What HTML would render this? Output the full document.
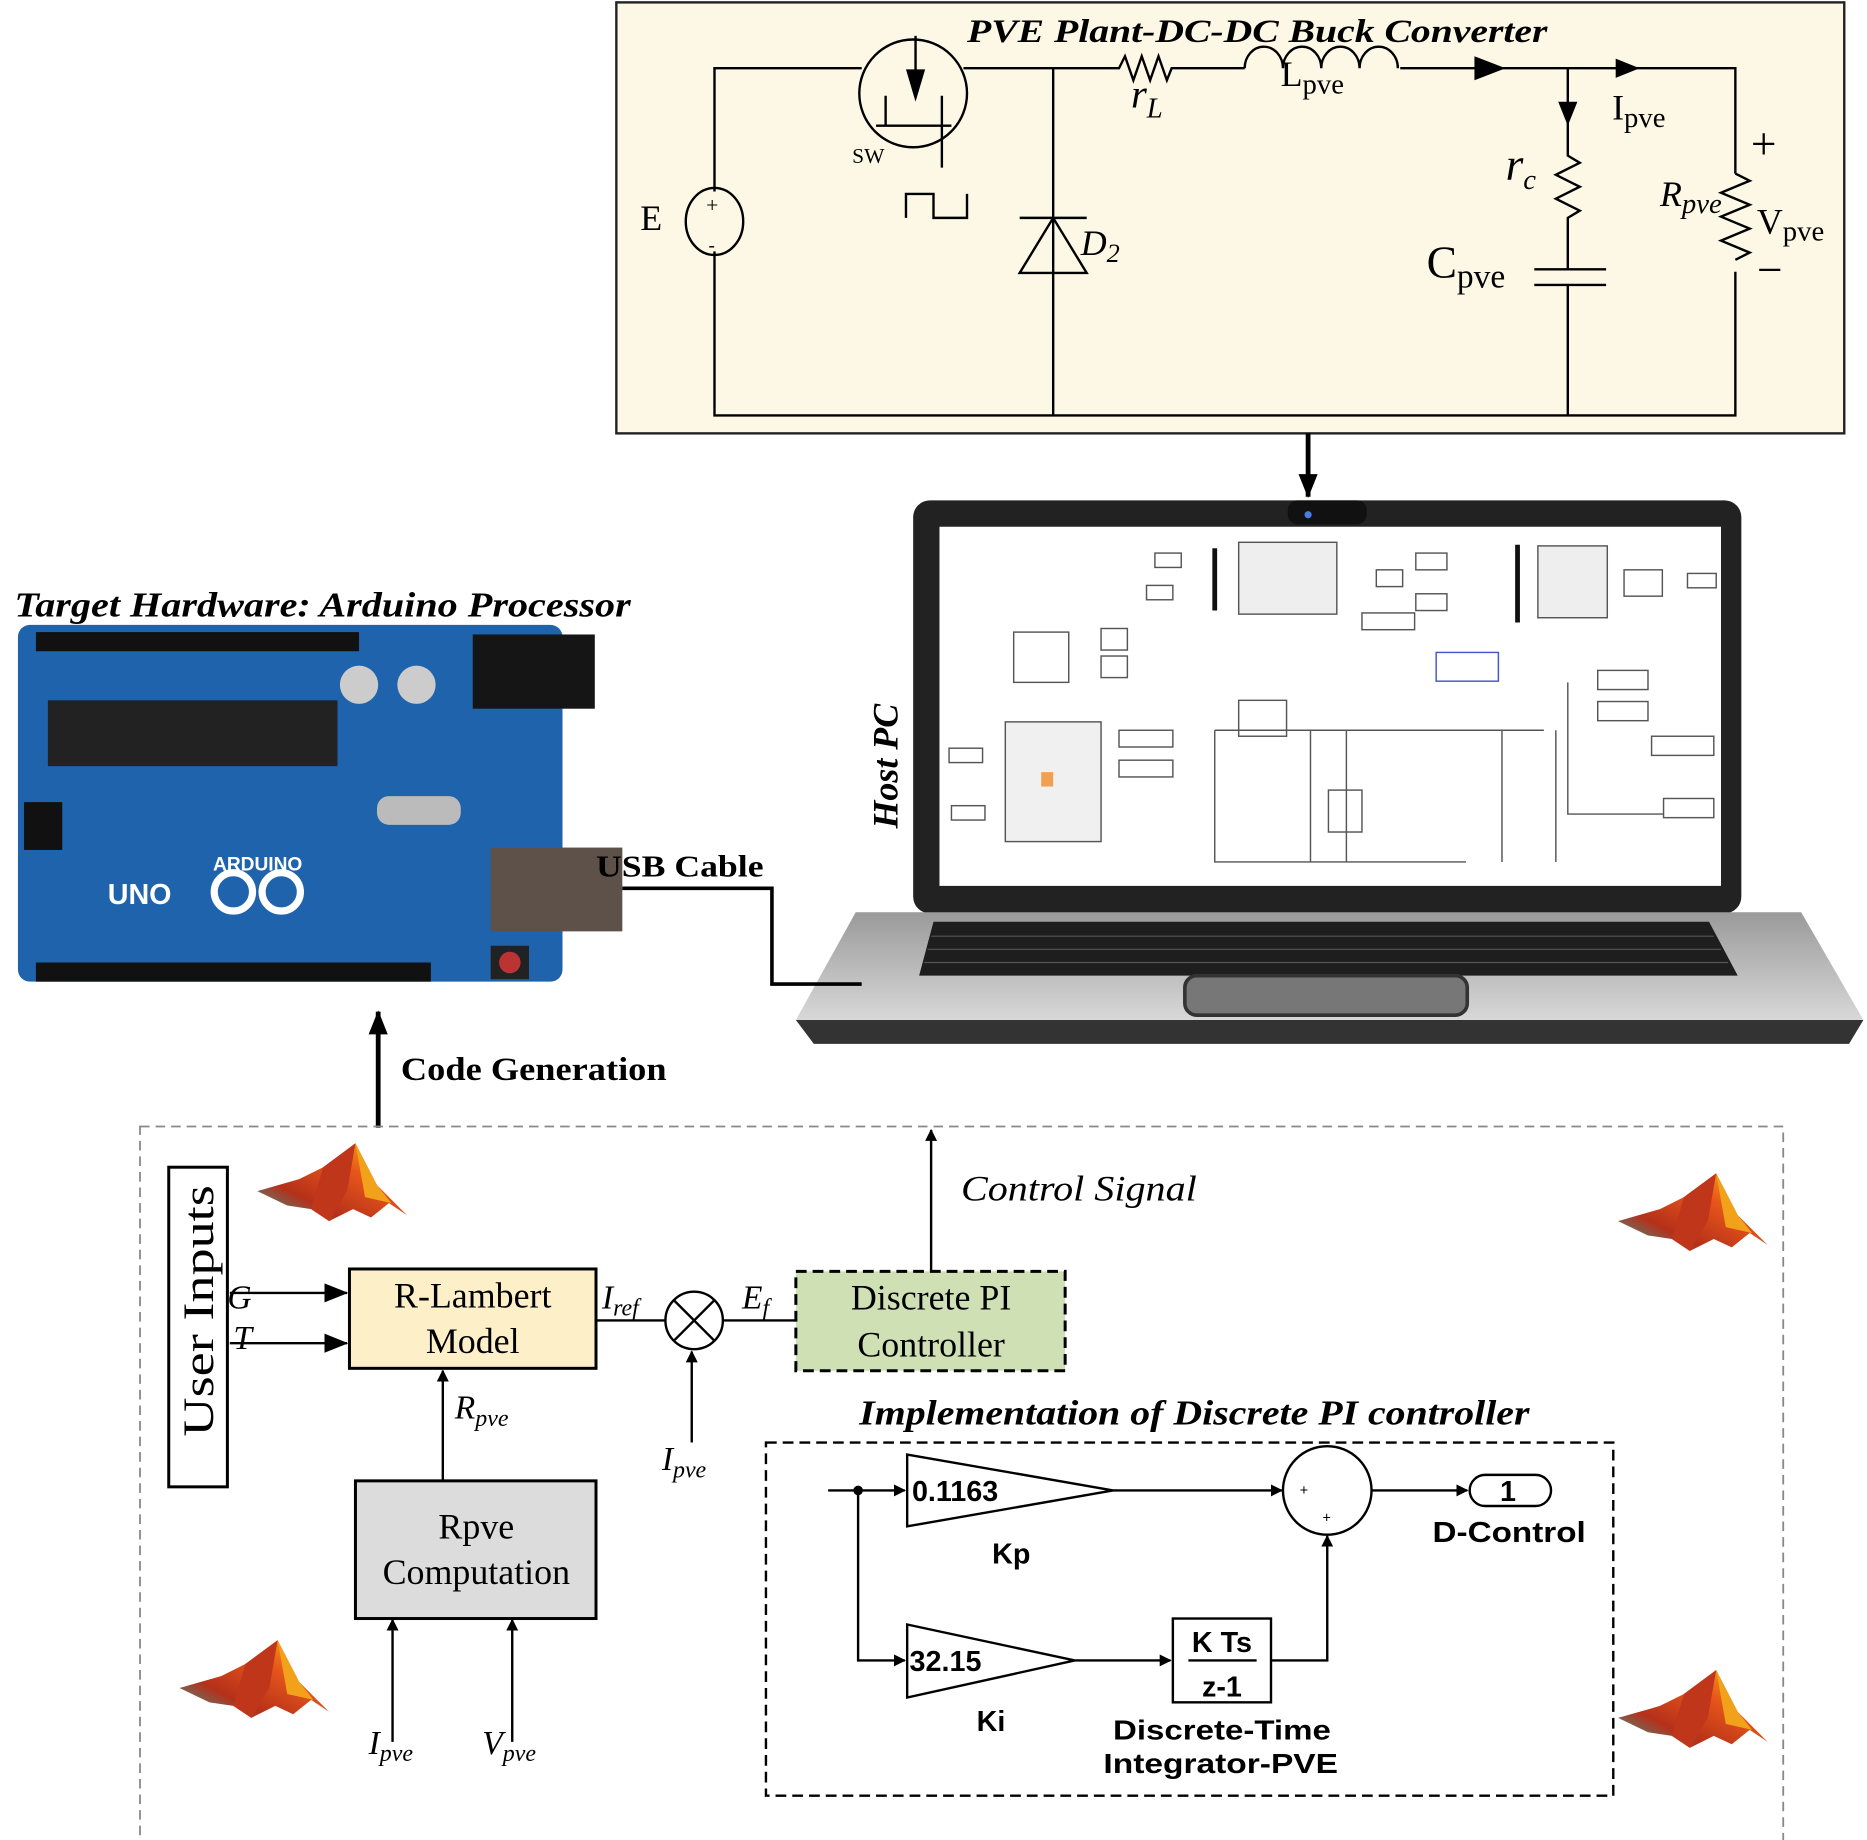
<!DOCTYPE html>
<html><head><meta charset="utf-8"><style>
html,body{margin:0;padding:0;background:#fff}
svg{display:block}
.s{font-family:"Liberation Serif",serif}
.a{font-family:"Liberation Sans",sans-serif;font-weight:bold}
</style></head><body>
<svg width="1867" height="1840" viewBox="0 0 1560 1537" preserveAspectRatio="none" xmlns="http://www.w3.org/2000/svg">
<defs>
<marker id="ar" markerWidth="10" markerHeight="10" refX="9" refY="5" orient="auto" markerUnits="userSpaceOnUse"><path d="M0,0 L10,5 L0,10z" fill="#000"/></marker>
<marker id="ab" markerWidth="20" markerHeight="16" refX="19" refY="8" orient="auto" markerUnits="userSpaceOnUse"><path d="M0,0 L20,8 L0,16z" fill="#000"/></marker>
<linearGradient id="mat" x1="0" y1="1" x2="1" y2="0"><stop offset="0" stop-color="#2aa7a0"/><stop offset="0.3" stop-color="#b5301a"/><stop offset="0.65" stop-color="#e8571a"/><stop offset="1" stop-color="#f7c21a"/></linearGradient>
<linearGradient id="base" x1="0" y1="0" x2="0" y2="1"><stop offset="0" stop-color="#9a9a9a"/><stop offset="1" stop-color="#d8d8d8"/></linearGradient>
<g id="logo"><polygon points="0,40 35,30 55,20 82,0 100,35 125,60 110,50 95,62 80,55 60,65 45,55 25,52" fill="url(#mat)"/><polygon points="55,20 82,0 75,40 60,65 45,55" fill="#c0361b"/><polygon points="82,0 100,35 112,50 90,45" fill="#f2a21a"/></g>
</defs>

<!-- circuit -->
<rect x="515" y="2" width="1026" height="360" fill="#fdf8e6" stroke="#222" stroke-width="2"/>
<text x="808" y="35" class="s" font-size="27" font-weight="bold" font-style="italic" textLength="485" lengthAdjust="spacingAndGlyphs">PVE Plant-DC-DC Buck Converter</text>
<g fill="none" stroke="#000" stroke-width="2">
<path d="M597,160 V57 H720"/>
<path d="M597,210 V347 H1450 V227"/>
<path d="M1450,145 V57 H1170"/>
<ellipse cx="597" cy="185" rx="24" ry="28"/>
<circle cx="763" cy="78" r="45"/>
<path d="M805,57 H935 l5,-10 l7,20 l7,-20 l7,20 l7,-20 l7,20 l4,-10 H1040"/>
<path d="M1040,57 a16,18 0 0 1 32,0 a16,18 0 0 1 32,0 a16,18 0 0 1 32,0 a16,18 0 0 1 32,0"/>
<path d="M880,57 V347"/>
<path d="M1310,57 V130 l10,6 l-20,10 l20,10 l-20,10 l20,10 l-10,6 V225 M1282,225 H1342 M1282,238 H1342 M1310,238 V347"/>
<path d="M1450,145 l12,6 l-24,10 l24,10 l-24,10 l24,10 l-24,10 l24,10 l-12,6"/>
<path d="M732,105 H795 M740,80 V105 M787,80 V105 M787,105 V140 M765,30 V80"/>
<path d="M757,182 V162 H780 V182 H808 V162"/>
</g>
<polygon points="757,58 773,58 765,85" fill="#000"/>
<polygon points="852,228 908,228 880,182" fill="none" stroke="#000" stroke-width="2"/>
<line x1="852" y1="182" x2="908" y2="182" stroke="#000" stroke-width="2"/>
<polygon points="1232,47 1258,57 1232,67" fill="#000"/>
<polygon points="1350,49 1370,57 1350,65" fill="#000"/>
<polygon points="1302,85 1318,85 1310,105" fill="#000"/>
<g class="s" font-size="30">
<text x="535" y="192">E</text>
<text x="590" y="177" font-size="18">+</text><text x="592" y="210" font-size="16">-</text>
<text x="712" y="136" font-size="18">SW</text>
<text x="903" y="213" font-style="italic">D<tspan font-size="22" dy="6">2</tspan></text>
<text x="945" y="90" font-style="italic" font-size="34">r<tspan font-size="24" dy="8">L</tspan></text>
<text x="1070" y="72">L<tspan font-size="24" dy="6">pve</tspan></text>
<text x="1347" y="100">I<tspan font-size="24" dy="6">pve</tspan></text>
<text x="1258" y="150" font-size="38" font-style="italic">r<tspan font-size="24" dy="8">c</tspan></text>
<text x="1192" y="232" font-size="38">C<tspan font-size="28" dy="8">pve</tspan></text>
<text x="1387" y="172" font-style="italic">R<tspan font-size="24" dy="6">pve</tspan></text>
<text x="1468" y="195">V<tspan font-size="24" dy="6">pve</tspan></text>
<text x="1463" y="133" font-size="38">+</text>
<text x="1468" y="238" font-size="38">−</text>
</g>
<line x1="1093" y1="362" x2="1093" y2="415" stroke="#000" stroke-width="4" marker-end="url(#ab)"/>

<!-- laptop -->
<rect x="763" y="418" width="692" height="345" rx="14" fill="#222"/>
<rect x="1076" y="418" width="66" height="20" rx="8" fill="#111"/><circle cx="1093" cy="430" r="3" fill="#4a7de0"/>
<rect x="785" y="440" width="653" height="300" fill="#fff"/>
<polygon points="715,762 1505,762 1557,852 665,852" fill="url(#base)"/>
<polygon points="780,770 1428,770 1452,815 768,815" fill="#1e1e1e"/>
<g stroke="#555" stroke-width="1">
<line x1="778" y1="782" x2="1432" y2="782"/><line x1="775" y1="793" x2="1438" y2="793"/><line x1="772" y1="804" x2="1444" y2="804"/>
</g>
<rect x="990" y="815" width="236" height="33" rx="10" fill="#777" stroke="#333" stroke-width="3"/>
<polygon points="665,852 1557,852 1545,872 680,872" fill="#333"/>
<g fill="none" stroke="#555" stroke-width="1.2">
<rect x="965" y="462" width="22" height="12"/><rect x="958" y="489" width="22" height="12"/>
<line x1="1015" y1="458" x2="1015" y2="510" stroke-width="4" stroke="#111"/>
<rect x="1035" y="453" width="82" height="60" fill="#eee"/>
<rect x="1150" y="476" width="22" height="14"/><rect x="1183" y="462" width="26" height="14"/><rect x="1183" y="496" width="26" height="14"/>
<rect x="1138" y="512" width="44" height="14"/>
<line x1="1268" y1="455" x2="1268" y2="520" stroke-width="4" stroke="#111"/>
<rect x="1285" y="456" width="58" height="60" fill="#eee"/>
<rect x="1357" y="476" width="32" height="22"/><rect x="1410" y="479" width="24" height="12"/>
<rect x="847" y="528" width="46" height="42"/><rect x="920" y="525" width="22" height="18"/><rect x="920" y="548" width="22" height="18"/>
<rect x="1200" y="545" width="52" height="24" stroke="#4455cc"/>
<rect x="840" y="603" width="80" height="100" fill="#f0f0f0"/>
<rect x="935" y="610" width="45" height="14"/><rect x="935" y="635" width="45" height="14"/>
<rect x="793" y="625" width="28" height="12"/><rect x="795" y="673" width="28" height="12"/>
<rect x="1035" y="585" width="40" height="30"/>
<path d="M1015,610 V720 H1225 M1095,610 V720 M1125,610 V720 M1255,610 V720 M1300,610 V720 M1015,610 H1290"/>
<rect x="1110" y="660" width="28" height="35"/>
<rect x="1335" y="560" width="42" height="16"/><rect x="1335" y="586" width="42" height="16"/><rect x="1380" y="615" width="52" height="16"/><rect x="1390" y="667" width="42" height="16"/>
<path d="M1310,570 V680 H1390"/>
</g>
<rect x="870" y="645" width="10" height="12" fill="#f0a050"/>
<text x="750" y="640" class="s" font-size="30" font-weight="bold" font-style="italic" text-anchor="middle" transform="rotate(-90 750 640)">Host PC</text>

<!-- arduino -->
<text x="12" y="515" class="s" font-size="29" font-weight="bold" font-style="italic" textLength="515" lengthAdjust="spacingAndGlyphs">Target Hardware: Arduino Processor</text>
<rect x="15" y="522" width="455" height="298" rx="10" fill="#1f63ad"/>
<rect x="30" y="528" width="270" height="16" fill="#111"/>
<rect x="30" y="804" width="330" height="16" fill="#111"/>
<rect x="40" y="585" width="242" height="55" fill="#222"/>
<rect x="395" y="530" width="102" height="62" fill="#151515"/>
<circle cx="300" cy="572" r="16" fill="#ccc"/><circle cx="348" cy="572" r="16" fill="#ccc"/>
<rect x="410" y="708" width="110" height="70" fill="#5e514a"/>
<rect x="410" y="790" width="32" height="28" fill="#222"/><circle cx="426" cy="804" r="9" fill="#b33"/>
<rect x="315" y="665" width="70" height="24" rx="10" fill="#bbb"/>
<rect x="20" y="670" width="32" height="40" fill="#111"/>
<text x="90" y="755" class="a" font-size="24" fill="#fff">UNO</text>
<circle cx="195" cy="745" r="16" fill="none" stroke="#fff" stroke-width="6"/><circle cx="235" cy="745" r="16" fill="none" stroke="#fff" stroke-width="6"/>
<text x="178" y="727" class="a" font-size="16" fill="#fff">ARDUINO</text>
<text x="498" y="732" class="s" font-size="26" font-weight="bold" textLength="140" lengthAdjust="spacingAndGlyphs">USB Cable</text>
<path d="M520,742 H645 V822 H720" fill="none" stroke="#000" stroke-width="3"/>

<!-- code generation -->
<line x1="316" y1="942" x2="316" y2="845" stroke="#000" stroke-width="4" marker-end="url(#ab)"/>
<text x="335" y="902" class="s" font-size="27" font-weight="bold" textLength="222" lengthAdjust="spacingAndGlyphs">Code Generation</text>

<!-- bottom -->
<rect x="117" y="941" width="1373" height="600" fill="none" stroke="#888" stroke-width="1.5" stroke-dasharray="8,5"/>
<use href="#logo" x="215" y="955"/><use href="#logo" x="1352" y="980"/><use href="#logo" x="150" y="1370"/><use href="#logo" x="1352" y="1395"/>
<rect x="141" y="975" width="49" height="267" fill="#fff" stroke="#000" stroke-width="2.5"/>
<text x="178" y="1095" class="s" font-size="36" text-anchor="middle" transform="rotate(-90 178 1095)" textLength="210" lengthAdjust="spacingAndGlyphs">User Inputs</text>
<g stroke="#000" stroke-width="2" fill="none">
<line x1="192" y1="1080" x2="290" y2="1080" marker-end="url(#ab)"/>
<line x1="192" y1="1122" x2="290" y2="1122" marker-end="url(#ab)"/>
<line x1="498" y1="1103" x2="556" y2="1103"/>
<line x1="604" y1="1103" x2="665" y2="1103"/>
<circle cx="580" cy="1103" r="24"/>
<line x1="563" y1="1086" x2="597" y2="1120"/><line x1="597" y1="1086" x2="563" y2="1120"/>
<line x1="778" y1="1062" x2="778" y2="944" marker-end="url(#ar)"/>
<line x1="578" y1="1205" x2="578" y2="1129" marker-end="url(#ar)"/>
<line x1="370" y1="1237" x2="370" y2="1145" marker-end="url(#ar)"/>
<line x1="328" y1="1455" x2="328" y2="1353" marker-end="url(#ar)"/>
<line x1="428" y1="1455" x2="428" y2="1353" marker-end="url(#ar)"/>
</g>
<rect x="292" y="1060" width="206" height="83" fill="#fdf0c8" stroke="#000" stroke-width="2.5"/>
<rect x="665" y="1062" width="225" height="83" fill="#cfe0b5" stroke="#000" stroke-width="2.5" stroke-dasharray="9,5"/>
<rect x="297" y="1237" width="201" height="115" fill="#dcdcdc" stroke="#000" stroke-width="2.5"/>
<g class="s" font-size="30" text-anchor="middle">
<text x="395" y="1092">R-Lambert</text><text x="395" y="1130">Model</text>
<text x="778" y="1094">Discrete PI</text><text x="778" y="1133">Controller</text>
<text x="398" y="1285">Rpve</text><text x="398" y="1323">Computation</text>
</g>
<g class="s" font-size="28" font-style="italic">
<text x="190" y="1093">G</text><text x="195" y="1127">T</text>
<text x="503" y="1093">I<tspan font-size="20" dy="6">ref</tspan></text>
<text x="620" y="1093">E<tspan font-size="20" dy="6">f</tspan></text>
<text x="380" y="1185">R<tspan font-size="20" dy="6">pve</tspan></text>
<text x="553" y="1228">I<tspan font-size="20" dy="6">pve</tspan></text>
<text x="308" y="1465">I<tspan font-size="20" dy="6">pve</tspan></text>
<text x="403" y="1465">V<tspan font-size="20" dy="6">pve</tspan></text>
<text x="803" y="1003" font-size="30" textLength="197" lengthAdjust="spacingAndGlyphs">Control Signal</text>
</g>
<text x="718" y="1190" class="s" font-size="29" font-weight="bold" font-style="italic" textLength="560" lengthAdjust="spacingAndGlyphs">Implementation of Discrete PI controller</text>
<rect x="640" y="1205" width="708" height="295" fill="none" stroke="#000" stroke-width="2" stroke-dasharray="9,5"/>
<g stroke="#000" stroke-width="2" fill="none">
<line x1="692" y1="1245" x2="756" y2="1245" marker-end="url(#ar)"/>
<path d="M717,1245 V1387 H756" marker-end="url(#ar)"/>
<polygon points="758,1215 930,1245 758,1275" fill="#fff"/>
<polygon points="758,1357 898,1387 758,1418" fill="#fff"/>
<line x1="930" y1="1245" x2="1071" y2="1245" marker-end="url(#ar)"/>
<ellipse cx="1109" cy="1245" rx="37" ry="37"/>
<line x1="1146" y1="1245" x2="1226" y2="1245" marker-end="url(#ar)"/>
<rect x="1228" y="1232" width="68" height="26" rx="13"/>
<line x1="898" y1="1387" x2="978" y2="1387" marker-end="url(#ar)"/>
<rect x="980" y="1352" width="82" height="70"/>
<line x1="993" y1="1387" x2="1050" y2="1387"/>
<path d="M1062,1387 H1109 V1283" marker-end="url(#ar)"/>
</g>
<circle cx="717" cy="1245" r="4" fill="#000"/>
<g class="a" font-size="24">
<text x="762" y="1254">0.1163</text>
<text x="760" y="1396">32.15</text>
<text x="845" y="1306" text-anchor="middle">Kp</text>
<text x="828" y="1446" text-anchor="middle">Ki</text>
<text x="1260" y="1254" text-anchor="middle">1</text>
<text x="1197" y="1288" textLength="128" lengthAdjust="spacingAndGlyphs">D-Control</text>
<text x="1021" y="1380" text-anchor="middle">K Ts</text>
<text x="1021" y="1417" text-anchor="middle">z-1</text>
<text x="930" y="1453" font-size="23" textLength="182" lengthAdjust="spacingAndGlyphs">Discrete-Time</text>
<text x="922" y="1481" font-size="23" textLength="196" lengthAdjust="spacingAndGlyphs">Integrator-PVE</text>
</g>
<text x="1086" y="1249" font-size="12" font-family="Liberation Sans">+</text>
<text x="1105" y="1272" font-size="12" font-family="Liberation Sans">+</text>
</svg>
</body></html>
